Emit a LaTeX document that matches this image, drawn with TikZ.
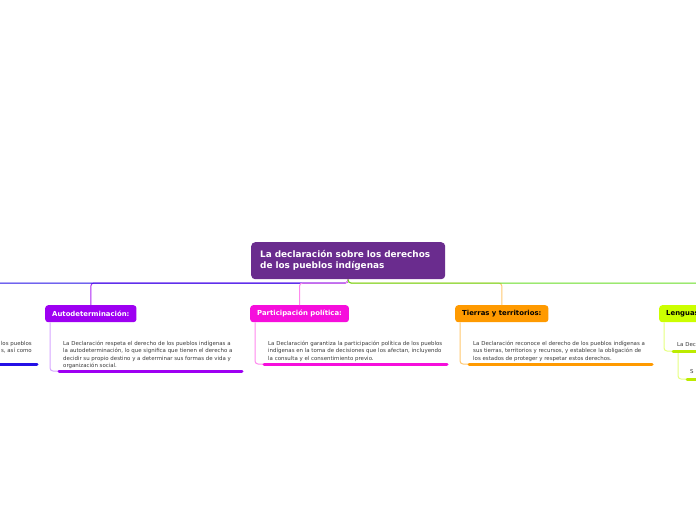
\documentclass[tikz,border=0pt]{standalone}
\usepackage{fontspec}
\setmainfont{DejaVu Sans}
\definecolor{cpurple}{HTML}{6A2C8E}
\definecolor{cviolet}{HTML}{9E00F2}
\definecolor{cvioletl}{HTML}{D6A6FF}
\definecolor{cmag}{HTML}{F60EDC}
\definecolor{cmagl}{HTML}{FF88EE}
\definecolor{corange}{HTML}{FF9A00}
\definecolor{corangel}{HTML}{FFC870}
\definecolor{clime}{HTML}{CCFF00}
\definecolor{climl}{HTML}{E6FF80}
\definecolor{cblue}{HTML}{2410E6}
\definecolor{cgreen}{HTML}{66DD22}
\definecolor{ctext}{HTML}{3A3A3A}
\begin{document}
\begin{tikzpicture}[x=1pt,y=-1pt,
  central/.style={draw=none,fill=cpurple,rounded corners=4pt,text=white,
    font=\fontsize{8.9}{11}\selectfont\bfseries,align=left,text width=176pt,
    inner xsep=9pt,minimum height=37pt,anchor=north west},
  topic/.style={draw=none,rounded corners=3pt,font=\fontsize{6.9}{8}\selectfont\bfseries,
    inner xsep=7pt,inner ysep=0pt,minimum height=17pt,anchor=north west},
  body/.style={font=\fontsize{5.45}{7.4}\selectfont,text=ctext,align=left,inner sep=0pt,anchor=north west},
  conn/.style={line width=1pt,rounded corners=3pt},
  uline/.style={line width=3pt,line cap=round}]
\useasboundingbox (0,0) rectangle (696,520);
\clip (0,0) rectangle (696,520);
\fill[white] (0,0) rectangle (696,520);

% central node
\node[central] (c) at (251,242) {La declaración sobre los derechos\\de los pueblos indígenas};

% topic nodes
\node[topic,fill=cviolet,text=white] (auto) at (45,305) {Autodeterminación:};
\node[topic,fill=cmag,text=white] (part) at (250,305) {Participación política:};
\node[topic,fill=corange,text=black] (tier) at (455,305) {Tierras y territorios:};
\node[topic,fill=clime,text=black] (leng) at (659,305) {Lenguas y culturas:};

% coordinates
\coordinate (hub) at (348,283);
\coordinate (leftend) at (-10,283);
\coordinate (rightend) at (720,283);

% main connectors
\draw[conn,cviolet!85] (c.south) -- (hub) -| (auto.north);
\draw[conn,cblue] (c.south) -- (hub) -- (leftend);
\draw[conn,cmagl] (c.south) -- (hub) -| (part.north);
\draw[conn,corangel] (c.south) -- (hub) -| (tier.north);
\draw[conn,cgreen] (c.south) -- (hub) -- (rightend);

% body texts
\node[body] (autot) at (63,341) {La Declaración respeta el derecho de los pueblos indígenas a\\la autodeterminación, lo que significa que tienen el derecho a\\decidir su propio destino y a determinar sus formas de vida y\\organización social.};
\node[body] (partt) at (268,341) {La Declaración garantiza la participación política de los pueblos\\indígenas en la toma de decisiones que los afectan, incluyendo\\la consulta y el consentimiento previo.};
\node[body] (tiert) at (473,341) {La Declaración reconoce el derecho de los pueblos indígenas a\\sus tierras, territorios y recursos, y establece la obligación de\\los estados de proteger y respetar estos derechos.};
\node[body] (lengt) at (677,342) {La Declaración reconoce};
\node[body] (leng2t) at (690,369) {S};
\node[body,anchor=north east,align=right] (leftt) at (32,341) {los pueblos\\s, así como};

% underlines
\coordinate (aul1) at (59,371); \coordinate (aul2) at (242,371);
\coordinate (pul1) at (264,364); \coordinate (pul2) at (447,364);
\coordinate (tul1) at (469,364); \coordinate (tul2) at (652,364);
\coordinate (lul1) at (673,351); \coordinate (lul2) at (710,351);
\coordinate (l2ul1) at (687,379); \coordinate (l2ul2) at (710,379);
\coordinate (bul1) at (-10,364); \coordinate (bul2) at (37,364);

% sub connectors
\draw[conn,cvioletl] ([xshift=5pt]auto.south west) |- (aul1);
\draw[conn,cmagl] ([xshift=5pt]part.south west) |- (pul1);
\draw[conn,corangel] ([xshift=5pt]tier.south west) |- (tul1);
\draw[conn,climl] ([xshift=5pt]leng.south west) |- (lul1);
\coordinate (l2s) at (678,352);
\draw[conn,climl] (l2s) |- (l2ul1);

\draw[uline,cviolet] (aul1) -- (aul2);
\draw[uline,cmag] (pul1) -- (pul2);
\draw[uline,corange] (tul1) -- (tul2);
\draw[uline,clime!92!black] (lul1) -- (lul2);
\draw[uline,clime!92!black] (l2ul1) -- (l2ul2);
\draw[uline,cblue] (bul1) -- (bul2);
\end{tikzpicture}
\end{document}
